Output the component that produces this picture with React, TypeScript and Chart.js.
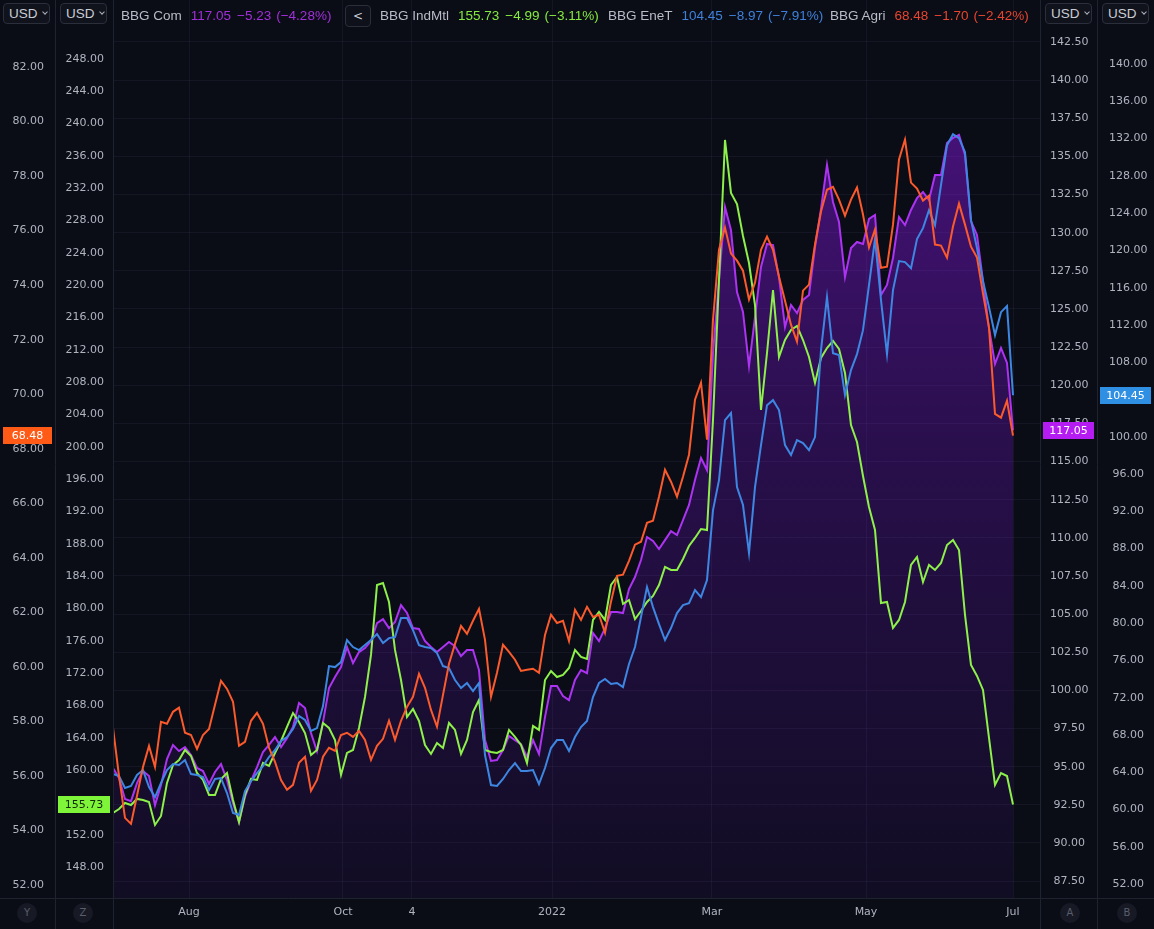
import { useEffect, useRef } from 'react';
import { Chart, registerables } from 'chart.js';

Chart.register(...registerables);

// Sample index 0..150 runs from early Jul 2021 to end of Jun 2022
const agri = [
  57.76, 56.0, 54.46, 54.24, 55.27, 56.33, 57.1, 56.33, 57.98, 57.91,
  58.35, 58.5, 57.58, 57.5, 56.99, 57.5, 57.72, 58.61, 59.49, 59.19,
  58.72, 57.1, 57.25, 58.02, 58.31, 57.91, 57.03, 56.51, 55.85, 55.49,
  55.67, 56.48, 56.7, 55.45, 55.85, 56.7, 57.03, 56.92, 57.5, 57.58,
  57.43, 57.65, 57.32, 56.59, 57.1, 57.36, 58.02, 57.32, 58.02, 58.53,
  58.9, 59.74, 59.23, 58.42, 57.8, 58.97, 60.11, 60.84, 61.5, 61.21,
  61.69, 62.13, 60.99, 58.9, 59.78, 60.81, 60.55, 60.26, 59.85, 59.89,
  59.93, 59.78, 61.17, 61.91, 61.61, 61.69, 60.95, 62.09, 61.72, 62.2,
  61.83, 61.91, 61.25, 62.39, 63.34, 63.38, 63.89, 64.48, 64.59, 65.28,
  65.36, 66.24, 67.23, 66.79, 66.24, 66.97, 67.78, 69.8, 70.42, 68.33,
  72.73, 75.3, 76.11, 75.16, 74.9, 74.53, 73.47, 74.09, 75.3, 75.78,
  75.3, 74.31, 73.43, 72.55, 71.93, 73.8, 74.02, 75.49, 76.7, 77.5,
  77.61, 77.14, 76.55, 77.14, 77.58, 76.59, 75.38, 76.04, 74.64, 74.68,
  76.22, 78.61, 79.34, 77.76, 77.54, 77.1, 77.28, 75.49, 75.45, 75.01,
  76.15, 76.99, 76.22, 75.41, 75.01, 73.69, 72.44, 69.28, 69.14, 69.76,
  68.48,
];

const indMtl = [
  154.68, 155.18, 155.92, 155.67, 156.42, 156.29, 156.04, 153.2, 154.31, 158.4,
  160.62, 161.24, 162.48, 161.74, 159.63, 158.77, 156.91, 156.91, 158.89, 159.63,
  156.29, 153.57, 156.91, 158.89, 158.77, 160.87, 160.5, 162.11, 163.59, 165.33,
  167.06, 165.95, 164.58, 161.86, 162.48, 165.82, 165.2, 163.72, 159.39, 162.11,
  162.48, 165.2, 169.04, 174.24, 182.9, 183.15, 180.8, 174.86, 171.14, 166.56,
  167.55, 166.07, 163.1, 161.99, 163.35, 162.73, 165.82, 164.96, 161.99, 163.72,
  167.18, 168.67, 162.48, 162.23, 162.11, 162.48, 164.96, 164.09, 163.1, 160.87,
  165.45, 164.96, 171.14, 172.26, 171.51, 171.76, 172.63, 174.86, 173.99, 173.74,
  178.57, 179.56, 178.57, 182.9, 183.89, 180.55, 181.04, 178.69, 179.68, 180.8,
  181.54, 182.9, 185.13, 184.76, 184.76, 186.12, 187.73, 188.72, 189.83, 189.71,
  203.32, 220.65, 237.98, 231.42, 230.05, 226.09, 222.75, 217.55, 204.56, 211.61,
  219.41, 211.12, 213.22, 214.46, 214.96, 213.22, 211.12, 207.9, 211.0, 212.23,
  213.1, 212.11, 209.14, 202.7, 200.6, 196.39, 192.55, 189.71, 180.67, 180.8,
  177.58, 178.57, 180.8, 185.38, 186.37, 183.27, 185.38, 184.76, 185.62, 187.85,
  188.47, 187.23, 179.19, 173.0, 171.64, 169.91, 163.97, 158.15, 159.63, 159.26,
  155.73,
];

const eneT = [
  63.8, 63.59, 62.3, 62.52, 63.7, 64.23, 62.41, 61.33, 62.84, 64.23,
  64.88, 64.77, 65.3, 63.8, 63.7, 63.48, 62.09, 63.27, 63.37, 61.76,
  59.62, 59.4, 61.98, 63.05, 63.91, 64.66, 65.63, 66.38, 67.34, 67.77,
  68.63, 70.03, 69.6, 68.42, 68.74, 71.1, 75.39, 75.28, 75.82, 78.18,
  77.43, 77.11, 77.64, 78.18, 78.82, 77.86, 78.39, 78.5, 80.54, 80.54,
  79.25, 77.64, 77.43, 77.32, 76.79, 75.39, 75.18, 73.89, 73.03, 73.57,
  72.71, 73.57, 65.84, 62.62, 62.52, 63.27, 64.23, 64.98, 64.12, 64.12,
  64.23, 62.73, 64.45, 66.59, 67.45, 67.45, 66.27, 67.77, 68.85, 69.49,
  72.06, 73.57, 74.0, 73.46, 73.57, 73.14, 75.61, 77.43, 80.65, 83.87,
  81.72, 79.9, 78.18, 79.47, 81.08, 81.94, 82.15, 83.55, 82.79, 84.62,
  92.13, 95.35, 101.79, 102.54, 94.6, 92.67, 87.52, 94.6, 99.1, 103.39,
  103.93, 102.86, 99.1, 98.03, 99.64, 99.32, 98.57, 99.96, 109.3, 114.98,
  108.97, 108.76, 104.47, 107.15, 108.87, 111.44, 116.27, 121.21, 114.66, 108.87,
  115.73, 118.85, 118.74, 118.09, 121.21, 122.39, 124.32, 122.71, 127.0, 131.29,
  132.47, 132.04, 130.54, 123.24, 120.24, 116.7, 113.91, 110.91, 113.37, 114.02,
  104.45,
];

const com = [
  94.91, 94.25, 92.88, 92.74, 93.92, 94.71, 94.38, 92.48, 93.79, 95.5,
  96.42, 96.02, 96.28, 95.76, 94.91, 94.71, 93.86, 94.65, 95.17, 94.12,
  92.61, 91.37, 93.01, 94.06, 94.97, 95.96, 96.42, 96.94, 96.28, 96.87,
  97.6, 99.17, 98.84, 97.2, 96.02, 97.92, 100.15, 100.87, 101.53, 102.84,
  101.79, 102.51, 102.77, 103.23, 104.41, 104.67, 104.08, 104.48, 105.59, 105.07,
  104.08, 104.02, 103.23, 102.84, 102.51, 102.84, 103.17, 102.9, 102.25, 102.64,
  102.64, 101.33, 96.74, 95.37, 95.43, 96.09, 97.01, 96.74, 96.48, 95.63,
  96.74, 95.83, 98.25, 100.28, 100.28, 99.63, 99.36, 100.68, 101.33, 101.13,
  103.76, 103.23, 104.08, 105.13, 105.13, 105.07, 106.64, 107.43, 108.54, 110.05,
  109.79, 109.26, 109.85, 110.44, 110.18, 111.16, 112.15, 113.79, 115.23, 114.44,
  122.11, 126.9, 131.68, 130.17, 126.11, 124.8, 121.26, 124.47, 127.75, 129.26,
  129.19, 127.09, 123.82, 125.26, 124.73, 125.59, 125.91, 129.06, 131.55, 134.44,
  132.01, 130.7, 127.09, 128.99, 129.39, 129.26, 130.9, 131.16, 125.91, 126.57,
  128.34, 131.03, 130.5, 131.49, 132.27, 132.67, 132.14, 133.78, 133.78, 135.88,
  136.21, 136.4, 135.09, 130.76, 129.85, 126.83, 123.75, 121.39, 122.44, 121.46,
  117.05,
];

const timeTicks = [
  { at: 12.67, label: 'Aug' },
  { at: 38.33, label: 'Oct' },
  { at: 49.83, label: '4' },
  { at: 73.17, label: '2022' },
  { at: 99.83, label: 'Mar' },
  { at: 125.5, label: 'May' },
  { at: 150, label: 'Jul' },
];

const agriTicks = [52, 54, 56, 58, 60, 62, 64, 66, 68, 70, 72, 74, 76, 78, 80, 82];
const indTicks = [
  148, 152, 156, 160, 164, 168, 172, 176, 180, 184, 188, 192, 196,
  200, 204, 208, 212, 216, 220, 224, 228, 232, 236, 240, 244, 248,
];
const comTicks = [
  87.5, 90, 92.5, 95, 97.5, 100, 102.5, 105, 107.5, 110, 112.5, 115,
  117.5, 120, 122.5, 125, 127.5, 130, 132.5, 135, 137.5, 140, 142.5,
];
const eneTicks = [
  52, 56, 60, 64, 68, 72, 76, 80, 84, 88, 92, 96, 100, 104, 108, 112,
  116, 120, 124, 128, 132, 136, 140,
];

const legendItems = [
  { name: 'BBG Com', last: '117.05', chg: '\u22125.23', pct: '(\u22124.28%)', color: '#a22fd9', left: 121 },
  { name: 'BBG IndMtl', last: '155.73', chg: '\u22124.99', pct: '(\u22123.11%)', color: '#86ea3f', left: 380 },
  { name: 'BBG EneT', last: '104.45', chg: '\u22128.97', pct: '(\u22127.91%)', color: '#3f80da', left: 608 },
  { name: 'BBG Agri', last: '68.48', chg: '\u22121.70', pct: '(\u22122.42%)', color: '#e8452e', left: 830 },
];

const BG = '#0a0d16';
const SEP = '#1f2330';
const TICK = '#b0b4bf';
const AXFONT = { family: '"DejaVu Sans", Verdana, sans-serif', size: 11 };

const COL_AGRI = '#fb5a2c';
const COL_IND = '#8ef04a';
const COL_ENE = '#3d87e2';
const COL_COM = '#ad33f2';

function toXY(arr: number[]) {
  return arr.map((v, i) => ({ x: i, y: v }));
}

function yAxis(pos: 'left' | 'right', weight: number, min: number, max: number, ticks: number[], width: number, padding: number, grid: boolean) {
  return {
    type: 'linear',
    position: pos,
    weight,
    min,
    max,
    afterBuildTicks: (axis: any) => {
      axis.ticks = ticks.map((v) => ({ value: v }));
    },
    afterFit: (s: any) => {
      s.width = width;
      s.paddingTop = 0;
      s.paddingBottom = 0;
    },
    ticks: {
      autoSkip: false,
      color: TICK,
      font: AXFONT,
      padding,
      crossAlign: 'center',
      callback: (v: any) => Number(v).toFixed(2),
    },
    grid: grid
      ? { color: 'rgba(120,130,165,0.09)', drawTicks: false, lineWidth: 1 }
      : { display: false, drawTicks: false },
    border: { display: false },
  };
}

const decor = {
  id: 'decor',
  beforeDraw(chart: any) {
    const { ctx, width, height } = chart;
    ctx.save();
    ctx.fillStyle = BG;
    ctx.fillRect(0, 0, width, height);
    ctx.restore();
  },
  afterDraw(chart: any) {
    const { ctx, chartArea, width, height, scales } = chart;
    ctx.save();
    ctx.strokeStyle = SEP;
    ctx.lineWidth = 1;
    const xs = [scales.yAgri.right, scales.yInd.right, scales.yCom.left, scales.yEne.left];
    xs.forEach((x: number) => {
      const px = Math.round(x) + 0.5;
      ctx.beginPath();
      ctx.moveTo(px, 0);
      ctx.lineTo(px, height);
      ctx.stroke();
    });
    const by = Math.round(chartArea.bottom) + 0.5;
    ctx.beginPath();
    ctx.moveTo(0, by);
    ctx.lineTo(width, by);
    ctx.stroke();

    const badges = [
      { id: 'yAgri', v: agri[agri.length - 1], bg: '#ff5a16', fg: '#ffffff' },
      { id: 'yInd', v: indMtl[indMtl.length - 1], bg: '#7ff53a', fg: '#14280a' },
      { id: 'yCom', v: com[com.length - 1], bg: '#b41cf2', fg: '#ffffff' },
      { id: 'yEne', v: eneT[eneT.length - 1], bg: '#2f8fe3', fg: '#ffffff' },
    ];
    badges.forEach((b) => {
      const s = scales[b.id];
      const y = s.getPixelForValue(b.v);
      ctx.fillStyle = b.bg;
      ctx.fillRect(s.left + 3, Math.round(y - 8.5), s.width - 6, 17);
      ctx.fillStyle = b.fg;
      ctx.font = '11px "DejaVu Sans", Verdana, sans-serif';
      ctx.textAlign = 'center';
      ctx.textBaseline = 'middle';
      ctx.fillText(b.v.toFixed(2), s.left + s.width / 2, y + 0.5);
    });
    ctx.restore();
  },
};

function UsdBox({ left }: { left: number }) {
  return (
    <div
      style={{
        position: 'absolute',
        left,
        top: 3,
        width: 47,
        height: 21,
        border: '1px solid #2b2f3c',
        borderRadius: 4,
        background: '#10131c',
        color: '#c9ccd4',
        fontFamily: '"Liberation Sans", Arial, sans-serif',
        fontSize: 13.5,
        lineHeight: '21px',
        boxSizing: 'border-box',
        paddingLeft: 5,
        display: 'flex',
        alignItems: 'center',
      }}
    >
      <span>USD</span>
      <span
        style={{
          display: 'inline-block',
          width: 3,
          height: 3,
          borderRight: '1.3px solid #aeb2bd',
          borderBottom: '1.3px solid #aeb2bd',
          transform: 'rotate(45deg)',
          marginLeft: 5,
          marginTop: -3,
        }}
      />
    </div>
  );
}

function AxisLetter({ cx, letter }: { cx: number; letter: string }) {
  return (
    <div
      style={{
        position: 'absolute',
        left: cx - 10,
        top: 903,
        width: 20,
        height: 20,
        borderRadius: 10,
        background: '#171a25',
        color: '#5a5e6c',
        fontFamily: '"DejaVu Sans", sans-serif',
        fontSize: 10,
        lineHeight: '20px',
        textAlign: 'center',
      }}
    >
      {letter}
    </div>
  );
}

export default function App() {
  const ref = useRef<HTMLCanvasElement | null>(null);

  useEffect(() => {
    if (!ref.current) return;
    const chart = new Chart(ref.current, {
      type: 'line',
      data: {
        datasets: [
          {
            label: 'BBG Agri',
            data: toXY(agri),
            yAxisID: 'yAgri',
            borderColor: COL_AGRI,
            borderWidth: 2,
            pointRadius: 0,
            tension: 0,
            fill: false,
          },
          {
            label: 'BBG EneT',
            data: toXY(eneT),
            yAxisID: 'yEne',
            borderColor: COL_ENE,
            borderWidth: 2,
            pointRadius: 0,
            tension: 0,
            fill: false,
          },
          {
            label: 'BBG IndMtl',
            data: toXY(indMtl),
            yAxisID: 'yInd',
            borderColor: COL_IND,
            borderWidth: 2,
            pointRadius: 0,
            tension: 0,
            fill: false,
          },
          {
            label: 'BBG Com',
            data: toXY(com),
            yAxisID: 'yCom',
            borderColor: COL_COM,
            borderWidth: 2,
            pointRadius: 0,
            tension: 0,
            fill: 'start',
            backgroundColor: (context: any) => {
              const { ctx, chartArea } = context.chart;
              if (!chartArea) return 'rgba(0,0,0,0)';
              const g = ctx.createLinearGradient(0, chartArea.top, 0, chartArea.bottom);
              g.addColorStop(0, 'rgba(150,25,245,0.52)');
              g.addColorStop(0.5, 'rgba(130,20,230,0.26)');
              g.addColorStop(1, 'rgba(110,15,210,0.07)');
              return g;
            },
          },
        ],
      },
      options: {
        responsive: false,
        maintainAspectRatio: false,
        animation: false,
        devicePixelRatio: 1,
        layout: { padding: 0 },
        plugins: {
          legend: { display: false },
          tooltip: { enabled: false },
        },
        scales: {
          x: {
            type: 'linear',
            position: 'bottom',
            min: 0,
            max: 154.5,
            afterBuildTicks: (axis: any) => {
              axis.ticks = timeTicks.map((t) => ({ value: t.at }));
            },
            afterFit: (s: any) => {
              s.height = 31;
              s.paddingLeft = 0;
              s.paddingRight = 0;
            },
            ticks: {
              autoSkip: false,
              maxRotation: 0,
              color: TICK,
              font: AXFONT,
              padding: 8,
              callback: (_v: any, i: number) => timeTicks[i]?.label ?? '',
            },
            grid: { color: 'rgba(120,130,165,0.09)', drawTicks: false },
            border: { display: false },
          },
          yAgri: yAxis('left', 1, 51.52, 84.46, agriTicks, 55, 11, false),
          yInd: yAxis('left', 0, 144.16, 255.3, indTicks, 58, 9, false),
          yCom: yAxis('right', 0, 86.39, 145.25, comTicks, 57, 10, true),
          yEne: yAxis('right', 1, 50.5, 146.87, eneTicks, 57, 12, false),
        } as any,
      },
      plugins: [decor],
    } as any);
    return () => chart.destroy();
  }, []);

  return (
    <div style={{ position: 'fixed', left: 0, top: 0, width: 1154, height: 929, background: BG, overflow: 'hidden' }}>
      <canvas ref={ref} width={1154} height={929} style={{ display: 'block', width: 1154, height: 929 }} />
      <UsdBox left={3} />
      <UsdBox left={60} />
      <UsdBox left={1045} />
      <UsdBox left={1102} />
      <div
        style={{
          position: 'absolute',
          left: 345,
          top: 5,
          width: 26,
          height: 22,
          border: '1px solid #2b2f3c',
          borderRadius: 4,
          boxSizing: 'border-box',
          color: '#c9ccd4',
          fontFamily: '"DejaVu Sans", sans-serif',
          fontSize: 12,
          lineHeight: '20px',
          textAlign: 'center',
          background: '#0e111a',
        }}
      >
        &lt;
      </div>
      {legendItems.map((it) => (
        <div
          key={it.name}
          style={{
            position: 'absolute',
            left: it.left,
            top: 5,
            height: 22,
            lineHeight: '22px',
            whiteSpace: 'nowrap',
            fontFamily: '"Liberation Sans", Arial, sans-serif',
            fontSize: 13.5,
          }}
        >
          <span style={{ color: '#b9bcc6' }}>{it.name}</span>
          <span style={{ color: it.color, marginLeft: 9 }}>{it.last}</span>
          <span style={{ color: it.color, marginLeft: 6 }}>{it.chg}</span>
          <span style={{ color: it.color, marginLeft: 5 }}>{it.pct}</span>
        </div>
      ))}
      <AxisLetter cx={27} letter="Y" />
      <AxisLetter cx={83} letter="Z" />
      <AxisLetter cx={1070} letter="A" />
      <AxisLetter cx={1127} letter="B" />
    </div>
  );
}
